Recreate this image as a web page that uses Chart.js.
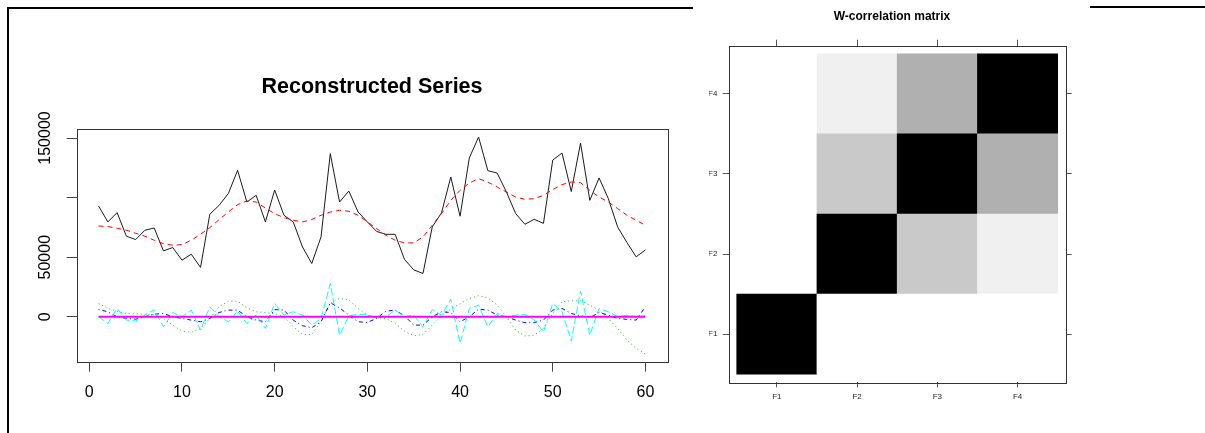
<!DOCTYPE html>
<html lang="en">
<head>
  <meta charset="UTF-8" />
  <title>Reconstructed Series / W-correlation matrix</title>
  <script src="https://cdn.jsdelivr.net/npm/chart.js"></script>
  <style>
    body {
      margin: 0;
      width: 1205px;
      height: 433px;
      background: #fff;
      position: relative;
      overflow: hidden;
    }
    canvas {
      position: absolute;
      top: 0;
    }
    #series { left: 0; }
    #wcor { left: 690px; }
    .rule {
      position: absolute;
      border-top: 2px solid #000;
    }
  </style>
</head>
<body>
  <div class="rule" style="left:7px; top:7px; width:684px; height:430px; border-left:2px solid #000;"></div>
  <div class="rule" style="left:1090px; top:6px; width:115px;"></div>
  <canvas id="series" width="744" height="433"></canvas>
  <canvas id="wcor" width="515" height="433"></canvas>

  <script>
    // time index
    const t = [1, 2, 3, 4, 5, 6, 7, 8, 9, 10, 11, 12, 13, 14, 15, 16, 17, 18, 19, 20,
               21, 22, 23, 24, 25, 26, 27, 28, 29, 30, 31, 32, 33, 34, 35, 36, 37, 38, 39, 40,
               41, 42, 43, 44, 45, 46, 47, 48, 49, 50, 51, 52, 53, 54, 55, 56, 57, 58, 59, 60];

    const observed = [93000, 79600, 87400, 67600, 64800, 72600, 74500, 55300, 58100, 47500,
                      52500, 41400, 86000, 93500, 103400, 122900, 96300, 101900, 79600, 106400,
                      85200, 79600, 58600, 44700, 67000, 136900, 96300, 105500, 87900, 79600,
                      71600, 69200, 69200, 48200, 39400, 36300, 75400, 87200, 117300, 84400,
                      133300, 150800, 122600, 120600, 104800, 86600, 77600, 81800, 78400, 131500,
                      137400, 105100, 145700, 97700, 116500, 99100, 75400, 62400, 50300, 56100];

    const trendF1 = [76200, 75700, 74300, 72600, 70100, 67600, 64200, 61400, 60000, 60600,
                     64200, 69200, 74800, 81500, 87900, 94100, 97200, 96300, 91300, 86500,
                     83200, 81000, 79600, 81600, 85200, 87900, 89400, 88500, 85200, 79600,
                     74000, 68400, 64200, 62000, 62000, 67000, 76800, 86600, 97700, 106100,
                     112300, 115900, 113100, 108900, 104700, 100500, 98600, 99100, 101900, 106700,
                     110900, 113100, 112500, 106100, 100500, 96300, 90800, 85200, 81000, 76800];

    const compF2 = [11200, 7000, 4700, 2800, 2500, 2200, 1900, -1400, -7000, -12000,
                    -13100, -9800, -1400, 8400, 13100, 13100, 7500, 4200, 3600, 2500,
                    0, -8400, -14800, -14800, -4200, 11200, 15400, 14000, 7000, 1400,
                    -800, -1400, -5600, -12000, -15900, -14800, -7000, 800, 6400, 11000,
                    15400, 17600, 15900, 9800, 0, -11200, -16200, -15400, -9800, 2800,
                    12600, 13400, 13400, 9800, 5600, -1400, -9800, -19500, -26500, -31300];

    const compF3 = [6100, 4200, 0, -1400, -2000, 0, 2200, 2800, 0, -1400,
                    -2800, -4200, -1400, 3600, 5600, 5600, 0, -2800, -4200, 6000,
                    5600, -2800, -7500, -9200, -4200, 11700, 7500, 1400, -4200, -4700,
                    -1400, 4700, 5600, 800, -7000, -7000, 0, 4200, 3600, -4200,
                    0, 6400, 5600, 1400, 0, -2800, -5000, -5000, -2800, 5600,
                    7000, 2800, 800, -800, 3600, 1400, -1400, -2200, -2800, 8400];

    const compF4 = [0, -5600, 7000, -2800, -3600, 1400, 6100, -8400, 3600, 0,
                    5600, -11200, 8400, 0, -4200, 4700, -5600, 1400, -9800, 11200,
                    1400, 4200, 1400, -7000, -1400, 27900, -15400, 800, 2000, 2000,
                    -1400, 0, 5600, 0, 1400, -8400, 6100, 1400, 14800, -22300,
                    7000, 9800, -8400, 2800, 0, 1400, 2000, -2800, -12600, 11200,
                    4200, -20400, 21500, -15400, 7000, 4200, 0, 1400, 0, 800];

    const residual = [0, 0, 0, 0, 0, 0, 0, 0, 0, 0, 0, 0, 0, 0, 0, 0, 0, 0, 0, 0,
                      0, 0, 0, 0, 0, 0, 0, 0, 0, 0, 0, 0, 0, 0, 0, 0, 0, 0, 0, 0,
                      0, 0, 0, 0, 0, 0, 0, 0, 0, 0, 0, 0, 0, 0, 0, 0, 0, 0, 0, 0];

    const xTicks = [0, 10, 20, 30, 40, 50, 60];
    const yTicks = [0, 50000, 100000, 150000];
    const yTickLabels = ['0', '50000', '', '150000']; // 100000 label dropped like in R

    // w-correlation matrix rows (F1 at the bottom)
    const factors = ['F1', 'F2', 'F3', 'F4'];
    const wcorF1 = [1, 0, 0, 0];
    const wcorF2 = [0, 1, 0.21, 0.06];
    const wcorF3 = [0, 0.21, 1, 0.31];
    const wcorF4 = [0, 0.06, 0.31, 1];

    Chart.defaults.font.family = '"Liberation Sans", Arial, sans-serif';
    Chart.defaults.color = '#000';

    // box around the plot region
    const frame = {
      id: 'frame',
      afterDraw(chart, args, opts) {
        const { ctx, chartArea: a } = chart;
        ctx.save();
        ctx.strokeStyle = opts.color || '#333';
        ctx.lineWidth = 1;
        ctx.strokeRect(Math.round(a.left) + 0.5, Math.round(a.top) + 0.5,
                       Math.round(a.right - a.left), Math.round(a.bottom - a.top));
        ctx.restore();
      }
    };

    const line = (data, color, dash, width, order) => ({
      data: data,
      borderColor: color,
      borderDash: dash,
      borderWidth: width,
      pointRadius: 0,
      tension: 0,
      fill: false,
      order: order
    });

    new Chart(document.getElementById('series'), {
      type: 'line',
      data: {
        labels: t,
        datasets: [
          line(observed, '#1a1a1a', [], 1, 6),
          line(trendF1, '#ff0000', [5, 4], 1, 5),
          line(compF2, '#00cd00', [1, 3], 1, 4),
          line(compF3, '#0000ff', [1, 3, 4, 3], 1, 3),
          line(compF4, '#00ffff', [7, 3], 1, 2),
          line(residual, '#ff00ff', [], 2, 1)
        ]
      },
      options: {
        responsive: false,
        animation: false,
        layout: { padding: 0 },
        plugins: {
          legend: { display: false },
          tooltip: { enabled: false },
          title: {
            display: true,
            text: 'Reconstructed Series',
            color: '#000',
            font: { size: 21.5, weight: 'bold' },
            padding: { top: 73.8, bottom: 29 }
          },
          frame: { color: '#333' }
        },
        scales: {
          x: {
            type: 'linear',
            min: -1.36,
            max: 62.36,
            afterBuildTicks: axis => { axis.ticks = xTicks.map(v => ({ value: v })); },
            afterFit: scale => { scale.height = 71.3; },
            border: { display: false },
            grid: { drawOnChartArea: false, tickLength: 10, color: '#444' },
            ticks: { autoSkip: false, maxRotation: 0, padding: 11, font: { size: 16 }, color: '#000' }
          },
          y: {
            min: -37700,
            max: 157900,
            afterBuildTicks: axis => { axis.ticks = yTicks.map(v => ({ value: v })); },
            afterFit: scale => { scale.width = 76.7; },
            border: { display: false },
            grid: { drawOnChartArea: false, tickLength: 10, color: '#444' },
            ticks: {
              autoSkip: false,
              minRotation: 90,
              maxRotation: 90,
              crossAlign: 'center',
              padding: -5.7,
              font: { size: 16 },
              color: '#000',
              callback: (v, i) => yTickLabels[i]
            }
          },
          // empty right margin so the title centres over the plot
          yR: {
            position: 'right',
            afterFit: scale => { scale.width = 76.7; },
            border: { display: false },
            grid: { display: false },
            ticks: { display: false }
          }
        }
      },
      plugins: [frame]
    });

    const rows = [wcorF1, wcorF2, wcorF3, wcorF4];
    const shade = w => {
      const g = Math.round(255 * (1 - w));
      return `rgb(${g},${g},${g})`;
    };
    const cellTicks = axis => { axis.ticks = factors.map((f, i) => ({ value: i + 1 })); };
    const rowTicks = axis => { axis.ticks = factors.map((f, i) => ({ value: i + 0.5 })); };

    new Chart(document.getElementById('wcor'), {
      type: 'bar',
      data: {
        datasets: rows.map((row, r) => ({
          label: factors[r],
          data: row.map((w, c) => ({ x: c + 1, y: 1 })),
          backgroundColor: row.map(shade),
          borderWidth: 0,
          barPercentage: 1,
          categoryPercentage: 1
        }))
      },
      options: {
        responsive: false,
        animation: false,
        layout: { padding: { left: 19, right: 130, top: 0, bottom: 0 } },
        plugins: {
          legend: { display: false },
          tooltip: { enabled: false },
          title: {
            display: true,
            text: 'W-correlation matrix',
            color: '#000',
            font: { size: 12, weight: 'bold' },
            padding: { top: 9.3, bottom: 16 }
          },
          frame: { color: '#333' }
        },
        scales: {
          x: {
            type: 'linear',
            stacked: true,
            offset: false,
            min: 0.4,
            max: 4.6,
            afterBuildTicks: cellTicks,
            afterFit: scale => { scale.height = 50.7; },
            border: { display: false },
            grid: { offset: false, drawOnChartArea: false, tickLength: 5, color: '#555' },
            ticks: { autoSkip: false, maxRotation: 0, padding: 4.9, font: { size: 8 }, color: '#222',
                     callback: (v, i) => factors[i] }
          },
          xTop: {
            type: 'linear',
            position: 'top',
            offset: false,
            min: 0.4,
            max: 4.6,
            afterBuildTicks: cellTicks,
            afterFit: scale => { scale.height = 6; },
            border: { display: false },
            grid: { offset: false, drawOnChartArea: false, tickLength: 6, color: '#555' },
            ticks: { display: false }
          },
          y: {
            stacked: true,
            min: -0.1,
            max: 4.1,
            afterBuildTicks: rowTicks,
            afterFit: scale => { scale.width = 19.7; },
            border: { display: false },
            grid: { drawOnChartArea: false, tickLength: 6, color: '#555' },
            ticks: { autoSkip: false, padding: 5.3, font: { size: 8 }, color: '#222',
                     callback: (v, i) => factors[i] }
          },
          yRight: {
            position: 'right',
            min: -0.1,
            max: 4.1,
            afterBuildTicks: rowTicks,
            afterFit: scale => { scale.width = 9.3; },
            border: { display: false },
            grid: { drawOnChartArea: false, tickLength: 6, color: '#555' },
            ticks: { display: false }
          }
        }
      },
      plugins: [frame]
    });
  </script>
</body>
</html>
